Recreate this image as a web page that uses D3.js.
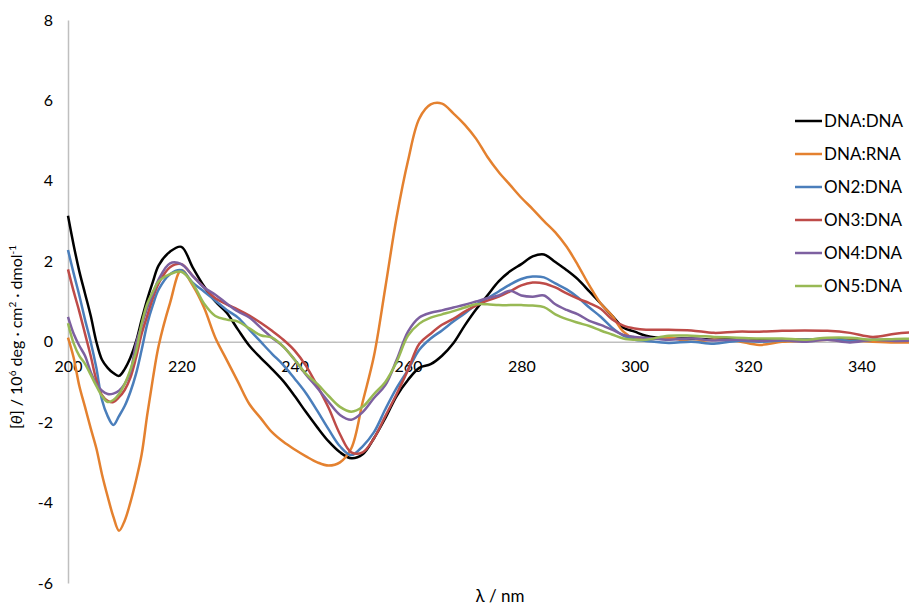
<!DOCTYPE html>
<html>
<head>
<meta charset="utf-8">
<script src="https://cdn.jsdelivr.net/npm/d3@7"></script>
<style>
  body { margin: 0; background: #fff; }
  svg { display: block; font-family: Lato, "Liberation Sans", sans-serif; }
</style>
</head>
<body>
<svg id="cd" width="909" height="605"></svg>
<script>
// wavelength grid (nm)
var wl = [200,201,202,203,204,205,206,207,208,209,210,211,212,213,214,215,216,
  218,220,222,224,226,228,230,232,234,236,238,240,242,244,246,248,250,252,254,256,258,260,
  262,264,266,268,270,272,274,276,278,280,282,284,286,288,290,292,294,296,298,300,
  302,306,310,314,318,322,326,330,334,338,342,346,350];

var dnaDna = [3.13,2.4,1.75,1.2,0.65,0.0,-0.45,-0.65,-0.78,-0.85,-0.68,-0.4,0.0,0.55,1.06,1.5,1.9,
  2.24,2.36,1.85,1.38,1.0,0.72,0.3,-0.1,-0.4,-0.68,-0.98,-1.35,-1.75,-2.13,-2.48,-2.75,-2.9,-2.8,-2.4,-1.9,-1.35,-0.95,
  -0.65,-0.56,-0.35,-0.04,0.4,0.8,1.15,1.5,1.75,1.93,2.12,2.17,1.98,1.78,1.55,1.25,0.95,0.65,0.35,0.25,
  0.15,0.08,0.08,0.05,0.07,0.04,0.06,0.05,0.07,0.05,0.03,0.05,0.04];

var dnaRna = [0.1,-0.4,-1.1,-1.62,-2.15,-2.65,-3.3,-3.85,-4.35,-4.7,-4.45,-4.0,-3.45,-2.8,-1.8,-0.9,-0.1,
  0.96,1.78,1.4,0.85,0.1,-0.45,-1.0,-1.55,-1.9,-2.25,-2.49,-2.68,-2.85,-3.0,-3.08,-3.0,-2.65,-1.5,-0.35,1.35,3.1,4.5,
  5.55,5.9,5.92,5.68,5.4,5.05,4.6,4.22,3.9,3.58,3.3,3.0,2.72,2.36,1.9,1.4,0.95,0.65,0.25,0.08,
  0.05,0.1,0.0,0.05,0.02,-0.08,0.0,0.02,0.05,0.03,0.0,-0.02,-0.02];

var on2 = [2.28,1.7,1.15,0.55,0.0,-0.65,-1.45,-1.85,-2.07,-1.85,-1.6,-1.25,-0.8,-0.2,0.45,0.92,1.3,
  1.68,1.78,1.47,1.25,1.02,0.79,0.6,0.3,0.0,-0.3,-0.58,-0.92,-1.28,-1.72,-2.18,-2.6,-2.82,-2.6,-2.25,-1.68,-1.15,-0.7,
  -0.2,0.08,0.28,0.5,0.7,0.92,1.08,1.25,1.42,1.56,1.62,1.6,1.45,1.3,1.1,0.85,0.62,0.35,0.15,0.05,
  0.02,-0.03,0.0,-0.05,0.02,0.0,0.03,0.05,0.08,0.02,0.05,0.04,0.05];

var on3 = [1.8,1.25,0.75,0.2,-0.35,-0.95,-1.33,-1.47,-1.5,-1.38,-1.2,-0.9,-0.4,0.2,0.65,1.1,1.45,
  1.85,1.93,1.64,1.35,1.08,0.93,0.8,0.65,0.47,0.27,0.05,-0.22,-0.6,-1.1,-1.65,-2.3,-2.75,-2.75,-2.4,-1.85,-1.3,-0.7,
  -0.05,0.2,0.42,0.57,0.75,0.9,1.02,1.12,1.25,1.4,1.47,1.45,1.35,1.2,1.07,0.96,0.82,0.56,0.4,0.33,
  0.3,0.3,0.28,0.22,0.25,0.25,0.27,0.28,0.27,0.22,0.12,0.2,0.24];

var on4 = [0.62,0.2,-0.1,-0.35,-0.75,-1.05,-1.22,-1.3,-1.29,-1.22,-1.05,-0.75,-0.05,0.4,0.85,1.2,1.55,
  1.95,1.93,1.64,1.35,1.17,0.95,0.75,0.6,0.35,0.1,-0.12,-0.45,-0.82,-1.15,-1.5,-1.82,-1.94,-1.75,-1.4,-1.08,-0.45,0.25,
  0.6,0.72,0.78,0.85,0.92,1.0,1.08,1.15,1.27,1.15,1.12,1.15,0.93,0.79,0.68,0.52,0.42,0.3,0.17,0.12,
  0.1,0.05,0.08,0.03,0.05,0.02,0.04,0.0,0.05,-0.02,0.05,0.02,0.03];

var on5 = [0.46,-0.04,-0.35,-0.55,-0.82,-1.1,-1.35,-1.5,-1.45,-1.3,-1.05,-0.7,-0.25,0.45,0.95,1.25,1.5,
  1.68,1.74,1.45,0.95,0.64,0.55,0.5,0.33,0.16,0.1,-0.12,-0.45,-0.8,-1.05,-1.35,-1.62,-1.74,-1.62,-1.3,-1.0,-0.5,0.15,
  0.45,0.6,0.68,0.76,0.85,0.93,0.93,0.91,0.91,0.91,0.9,0.86,0.68,0.56,0.47,0.39,0.28,0.18,0.08,0.05,
  0.05,0.15,0.15,0.12,0.1,0.08,0.08,0.05,0.1,0.1,0.05,0.07,0.08];

var names = ["DNA:DNA","DNA:RNA","ON2:DNA","ON3:DNA","ON4:DNA","ON5:DNA"];
var seriesVals = [dnaDna, dnaRna, on2, on3, on4, on5];
var colors = ["#000000","#E4812F","#4A7EBB","#BE4B48","#7D60A0","#98B954"];

var xTicks = [200,220,240,260,280,300,320,340];
var yTicks = [-6,-4,-2,0,2,4,6,8];

var svg = d3.select("#cd");

var x = d3.scaleLinear().domain([200, 350]).range([68, 918]);
var y = d3.scaleLinear().domain([-6, 8]).range([583, 20]);

var plainNum = function(d){ return String(d); };

// y axis (left line + labels)
var yAxis = svg.append("g")
  .attr("transform", "translate(68,0)")
  .call(d3.axisLeft(y).tickValues(yTicks).tickSize(0).tickPadding(15).tickFormat(plainNum));
yAxis.select(".domain").attr("stroke", "#BFBFBF").attr("stroke-width", 1.5);
yAxis.selectAll("text").attr("font-size", 16).attr("fill", "#000").style("font-family", "Lato, 'Liberation Sans', sans-serif");

// x axis sits on zero line
var xAxis = svg.append("g")
  .attr("transform", "translate(0," + y(0) + ")")
  .call(d3.axisBottom(x).tickValues(xTicks).tickSize(0).tickPadding(19).tickFormat(plainNum));
xAxis.select(".domain").attr("stroke", "#BFBFBF").attr("stroke-width", 1.5);
xAxis.selectAll("text").attr("font-size", 16).attr("fill", "#000").style("font-family", "Lato, 'Liberation Sans', sans-serif");

// spectra
var line = d3.line()
  .x(function(d){ return x(d[0]); })
  .y(function(d){ return y(d[1]); })
  .curve(d3.curveCatmullRom);

for (var i = 0; i < seriesVals.length; i++){
  var pts = wl.map(function(w, j){ return [w, seriesVals[i][j]]; });
  svg.append("path")
    .datum(pts)
    .attr("d", line)
    .attr("fill", "none")
    .attr("stroke", colors[i])
    .attr("stroke-width", 2.5)
    .attr("stroke-linejoin", "round");
}

// legend
var leg = svg.append("g");
for (var i = 0; i < names.length; i++){
  var ly = 121 + i * 33;
  leg.append("line")
    .attr("x1", 795).attr("x2", 822)
    .attr("y1", ly).attr("y2", ly)
    .attr("stroke", colors[i]).attr("stroke-width", 2.5);
  leg.append("text")
    .attr("x", 824).attr("y", ly)
    .attr("dy", "0.35em")
    .attr("font-size", 17)
    .text(names[i]);
}

// axis titles
svg.append("text")
  .attr("x", 500).attr("y", 602)
  .attr("text-anchor", "middle")
  .attr("font-size", 17)
  .text("\u03BB / nm");

var yt = svg.append("text")
  .attr("transform", "translate(22,337) rotate(-90)")
  .attr("text-anchor", "middle")
  .attr("font-size", 16);
yt.append("tspan").text("[");
yt.append("tspan").attr("font-style", "italic").text("\u03B8");
yt.append("tspan").text("] / 10");
yt.append("tspan").attr("baseline-shift", "super").attr("font-size", 10).text("6");
yt.append("tspan").text(" deg \u00B7 cm");
yt.append("tspan").attr("baseline-shift", "super").attr("font-size", 10).text("2");
yt.append("tspan").text(" \u00B7 dmol");
yt.append("tspan").attr("baseline-shift", "super").attr("font-size", 10).text("-1");
</script>
</body>
</html>
